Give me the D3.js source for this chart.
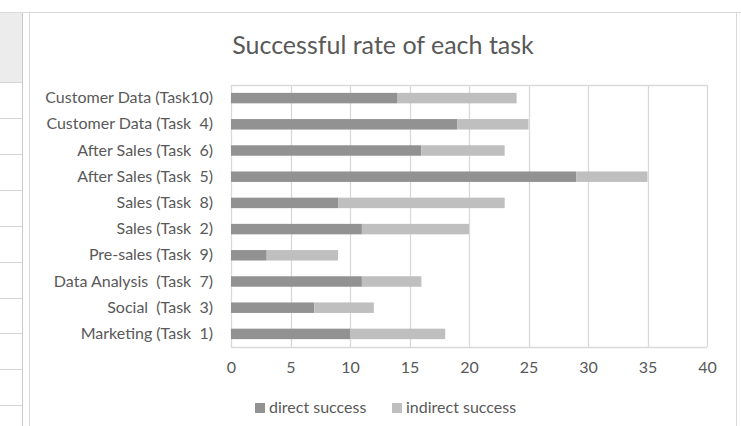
<!DOCTYPE html>
<html><head><meta charset="utf-8">
<script src="https://cdn.jsdelivr.net/npm/d3@7"></script>
<style>
html,body{margin:0;padding:0;background:#fff;}
svg{display:block;font-family:Lato, "Open Sans", sans-serif;}
</style></head>
<body>
<svg id="c" width="741" height="426"></svg>
<script>
const categories = ["Customer Data (Task10)","Customer Data (Task  4)","After Sales (Task  6)","After Sales (Task  5)","Sales (Task  8)","Sales (Task  2)","Pre-sales (Task  9)","Data Analysis  (Task  7)","Social  (Task  3)","Marketing (Task  1)"];
const directSuccess = [14,19,16,29,9,11,3,11,7,10];
const indirectSuccess = [10,6,7,6,14,9,6,5,5,8];
const xTicks = [0,5,10,15,20,25,30,35,40];
const seriesNames = ["direct success","indirect success"];
const colors = ["#929292","#bfbfbf"];

const svg = d3.select("#c");
const textColor = "#595959";

// spreadsheet background bits
svg.append("rect").attr("x",0).attr("y",12).attr("width",22).attr("height",70).attr("fill","#ececec");
[82,118,154,190,226,262,298,333,369,405].forEach(y=>{
  svg.append("line").attr("x1",0).attr("x2",22).attr("y1",y+0.5).attr("y2",y+0.5).attr("stroke","#d4d4d4");
});
svg.append("line").attr("x1",22.5).attr("x2",22.5).attr("y1",12).attr("y2",426).attr("stroke","#c8c8c8");
svg.append("line").attr("x1",0).attr("x2",741).attr("y1",12.5).attr("y2",12.5).attr("stroke","#d9d9d9");
// chart frame
svg.append("rect").attr("x",29.5).attr("y",12.5).attr("width",707).attr("height",420)
  .attr("fill","#fff").attr("stroke","#d9d9d9");

const m = {left:231, right:707, top:85, bottom:347};
const x = d3.scaleLinear().domain([0,40]).range([m.left,m.right]);
const y = d3.scaleBand().domain(categories).range([m.top,m.bottom]).paddingInner(0.6).paddingOuter(0.3);

// gridlines
svg.append("g").selectAll("line").data(xTicks).join("line")
  .attr("x1",d=>Math.round(x(d))+0.5).attr("x2",d=>Math.round(x(d))+0.5)
  .attr("y1",m.top).attr("y2",m.bottom)
  .attr("stroke","#d9d9d9").attr("stroke-width",1.3);
svg.append("line").attr("x1",m.left).attr("x2",m.right).attr("y1",m.top+0.5).attr("y2",m.top+0.5).attr("stroke","#d9d9d9").attr("stroke-width",1.3);
svg.append("line").attr("x1",m.left).attr("x2",m.right).attr("y1",m.bottom+0.5).attr("y2",m.bottom+0.5).attr("stroke","#d9d9d9").attr("stroke-width",1.3);

const stackData = categories.map((c,i)=>({cat:c, direct:directSuccess[i], indirect:indirectSuccess[i]}));
const stack = d3.stack().keys(["direct","indirect"])(stackData);
svg.append("g").selectAll("g").data(stack).join("g")
  .attr("fill",(d,i)=>colors[i])
  .selectAll("rect").data(d=>d).join("rect")
  .attr("x",d=>x(d[0])).attr("width",d=>x(d[1])-x(d[0]))
  .attr("y",d=>y(d.data.cat)).attr("height",y.bandwidth());

// y axis
const ya = svg.append("g").attr("transform",`translate(${m.left-18},0)`)
  .call(d3.axisLeft(y).tickSize(0).tickPadding(0));
ya.select(".domain").remove();
ya.selectAll("text").attr("fill",textColor).style("font-size","16px").style("white-space","pre").style("font-family","Lato, sans-serif");

// x axis
const xa = svg.append("g").attr("transform",`translate(0,${m.bottom+15})`)
  .call(d3.axisBottom(x).tickValues(xTicks).tickSize(0).tickPadding(0));
xa.select(".domain").remove();
xa.selectAll("text").attr("fill",textColor).style("font-size","16px").attr("dy","0.71em").style("font-family","Lato, sans-serif");

// title
svg.append("text").attr("x",383).attr("y",54).attr("text-anchor","middle")
  .attr("fill",textColor).style("font-size","25px").text("Successful rate of each task");

// legend
const lg = svg.append("g");
const lx = [255, 392];
seriesNames.forEach((n,i)=>{
  lg.append("rect").attr("x",lx[i]).attr("y",403).attr("width",10).attr("height",10).attr("fill",colors[i]);
  lg.append("text").attr("x",lx[i]+14).attr("y",413).attr("fill",textColor).style("font-size","16px").text(n);
});
</script>
</body></html>
